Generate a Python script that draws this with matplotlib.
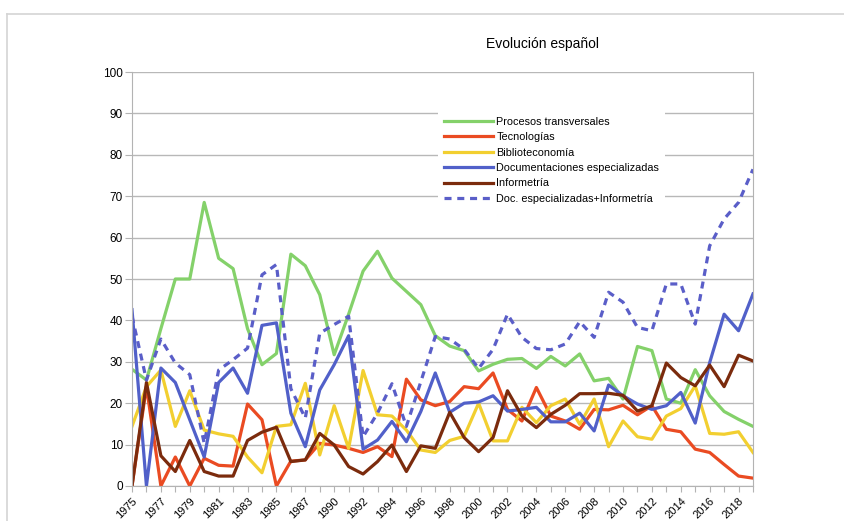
import matplotlib
matplotlib.use("Agg")
import matplotlib.pyplot as plt
from matplotlib.lines import Line2D

plt.rcParams['font.family'] = ['Liberation Sans', 'DejaVu Sans']

# categories (one year between 1987 and 1990 only)
years = [str(y) for y in range(1975, 1989)] + [str(y) for y in range(1990, 2020)]

procesos = [28.2, 25.6, 38, 50, 50, 68.5, 55, 52.5, 38, 29.3, 32, 56,
            53.2, 46.2, 31.7, 41.5, 51.9, 56.7, 50.2, 47, 43.8, 36.3, 33.8, 32.7,
            27.8, 29.4, 30.6, 30.8, 28.4, 31.3, 29, 31.9, 25.4, 26, 21, 33.7,
            32.7, 21, 20, 28.1, 21.8, 18, 16.1, 14.4]
tecnologias = [0, 24, 0, 7, 0, 6.7, 5, 4.8, 19.8, 16, 0, 6,
               6.3, 10.3, 9.9, 9.1, 8.1, 9.5, 7.1, 25.8, 20.8, 19.4, 20.4, 24,
               23.5, 27.3, 18.5, 15.7, 23.8, 16.9, 15.7, 13.7, 18.5, 18.4, 19.5, 17.2,
               19.4, 13.7, 13.1, 8.9, 8.1, 5.2, 2.4, 1.9]
biblio = [14.4, 24, 28, 14.4, 23, 13.5, 12.6, 12, 7, 3.2, 14.4, 14.8,
          24.8, 7.5, 19.4, 9.1, 27.9, 17.2, 16.9, 13.5, 8.7, 8.1, 11, 12,
          20, 10.9, 10.9, 19, 15.3, 19.4, 21, 14.9, 21, 9.5, 15.7, 11.9,
          11.3, 16.9, 18.7, 24.2, 12.7, 12.5, 13.1, 8.1]
docs = [42.6, 0, 28.5, 25, 16, 7, 25, 28.5, 22.4, 38.8, 39.4, 17.6,
        9.5, 23.2, 29.3, 36.3, 8.9, 11.1, 15.6, 10.7, 18, 27.3, 17.8, 20,
        20.3, 21.8, 18.1, 18.5, 19, 15.5, 15.5, 17.6, 13.3, 24.4, 21.8, 19.8,
        18.5, 19.4, 22.6, 15.2, 29.8, 41.5, 37.5, 46.4]
informetria = [0, 25, 7.3, 3.5, 11, 3.5, 2.4, 2.4, 11, 13, 14.2, 5.9,
               6.3, 12.7, 9.9, 4.7, 2.9, 5.9, 9.9, 3.5, 9.7, 9.1, 17.8, 11.7,
               8.3, 11.7, 23, 16.9, 14.1, 17.3, 19.5, 22.3, 22.3, 22.4, 21.9, 18.1,
               19.4, 29.7, 26.2, 24.2, 29.2, 24, 31.6, 30.2]
docs_inf = [41, 25.6, 35.5, 29.7, 26.9, 10.3, 28, 30.5, 33.3, 51, 53.5, 23.5,
            16.4, 36.9, 39, 41, 11.9, 17.6, 24.7, 14.4, 25.2, 36.1, 35.5, 33,
            28.4, 33, 41.5, 35.9, 33.2, 32.9, 34.3, 39.7, 35.9, 46.8, 44.4, 38.3,
            37.5, 48.8, 48.8, 39.1, 58, 64.5, 68.5, 76.5]

fig = plt.figure(figsize=(8.44, 5.21), dpi=100)
ax = fig.add_axes([132/844, 35/521, 621/844, 414/521])

x = list(range(len(years)))
lw = 2.3
ax.plot(x, procesos, color='#84d16a', lw=lw, label='Procesos transversales')
ax.plot(x, tecnologias, color='#ea4b22', lw=lw, label='Tecnologías')
ax.plot(x, biblio, color='#f2cf30', lw=lw, label='Biblioteconomía')
ax.plot(x, docs, color='#5160c9', lw=lw, label='Documentaciones especializadas')
ax.plot(x, informetria, color='#7b2b0d', lw=lw, label='Informetría')
ax.plot(x, docs_inf, color='#5a5ec8', lw=lw, ls=(0, (2.2, 1.8)),
        label='Doc. especializadas+Informetría')

ax.set_xlim(0, len(years) - 1)
ax.set_ylim(0, 100)
ax.set_yticks(range(0, 101, 10))
ax.set_xticks(x)
ax.set_xticklabels([y if i % 2 == 0 else '' for i, y in enumerate(years)],
                   rotation=45, ha='right', rotation_mode='anchor', fontsize=8)
ax.tick_params(axis='y', labelsize=8.5, length=5, color='#b3b3b3', pad=1.5)
ax.tick_params(axis='x', length=4, color='#b3b3b3', pad=3)
ax.grid(axis='y', color='#b8b8b8', lw=1)
ax.set_axisbelow(True)
for s in ['left', 'right', 'bottom']:
    ax.spines[s].set_color('#b3b3b3')
ax.spines['top'].set_visible(False)

leg = ax.legend(loc='upper left', bbox_to_anchor=(433/844, 1 - 106/521),
                bbox_transform=fig.transFigure, fontsize=7.8, frameon=True,
                fancybox=False, edgecolor='none', facecolor='white', framealpha=1,
                handlelength=4.5, handletextpad=0.35, labelspacing=0.5,
                borderpad=0.5)

fig.text(543/844, 1 - 44/521, 'Evolución español', ha='center', va='center',
         fontsize=10)

# outer light frame (only left and top are visible)
fig.add_artist(Line2D([7/844, 7/844], [0, 1 - 14/521], color='#d4d4d4', lw=1.2))
fig.add_artist(Line2D([7/844, 1], [1 - 14/521, 1 - 14/521], color='#d4d4d4', lw=1.2))

fig.savefig('out.png', dpi=100)
